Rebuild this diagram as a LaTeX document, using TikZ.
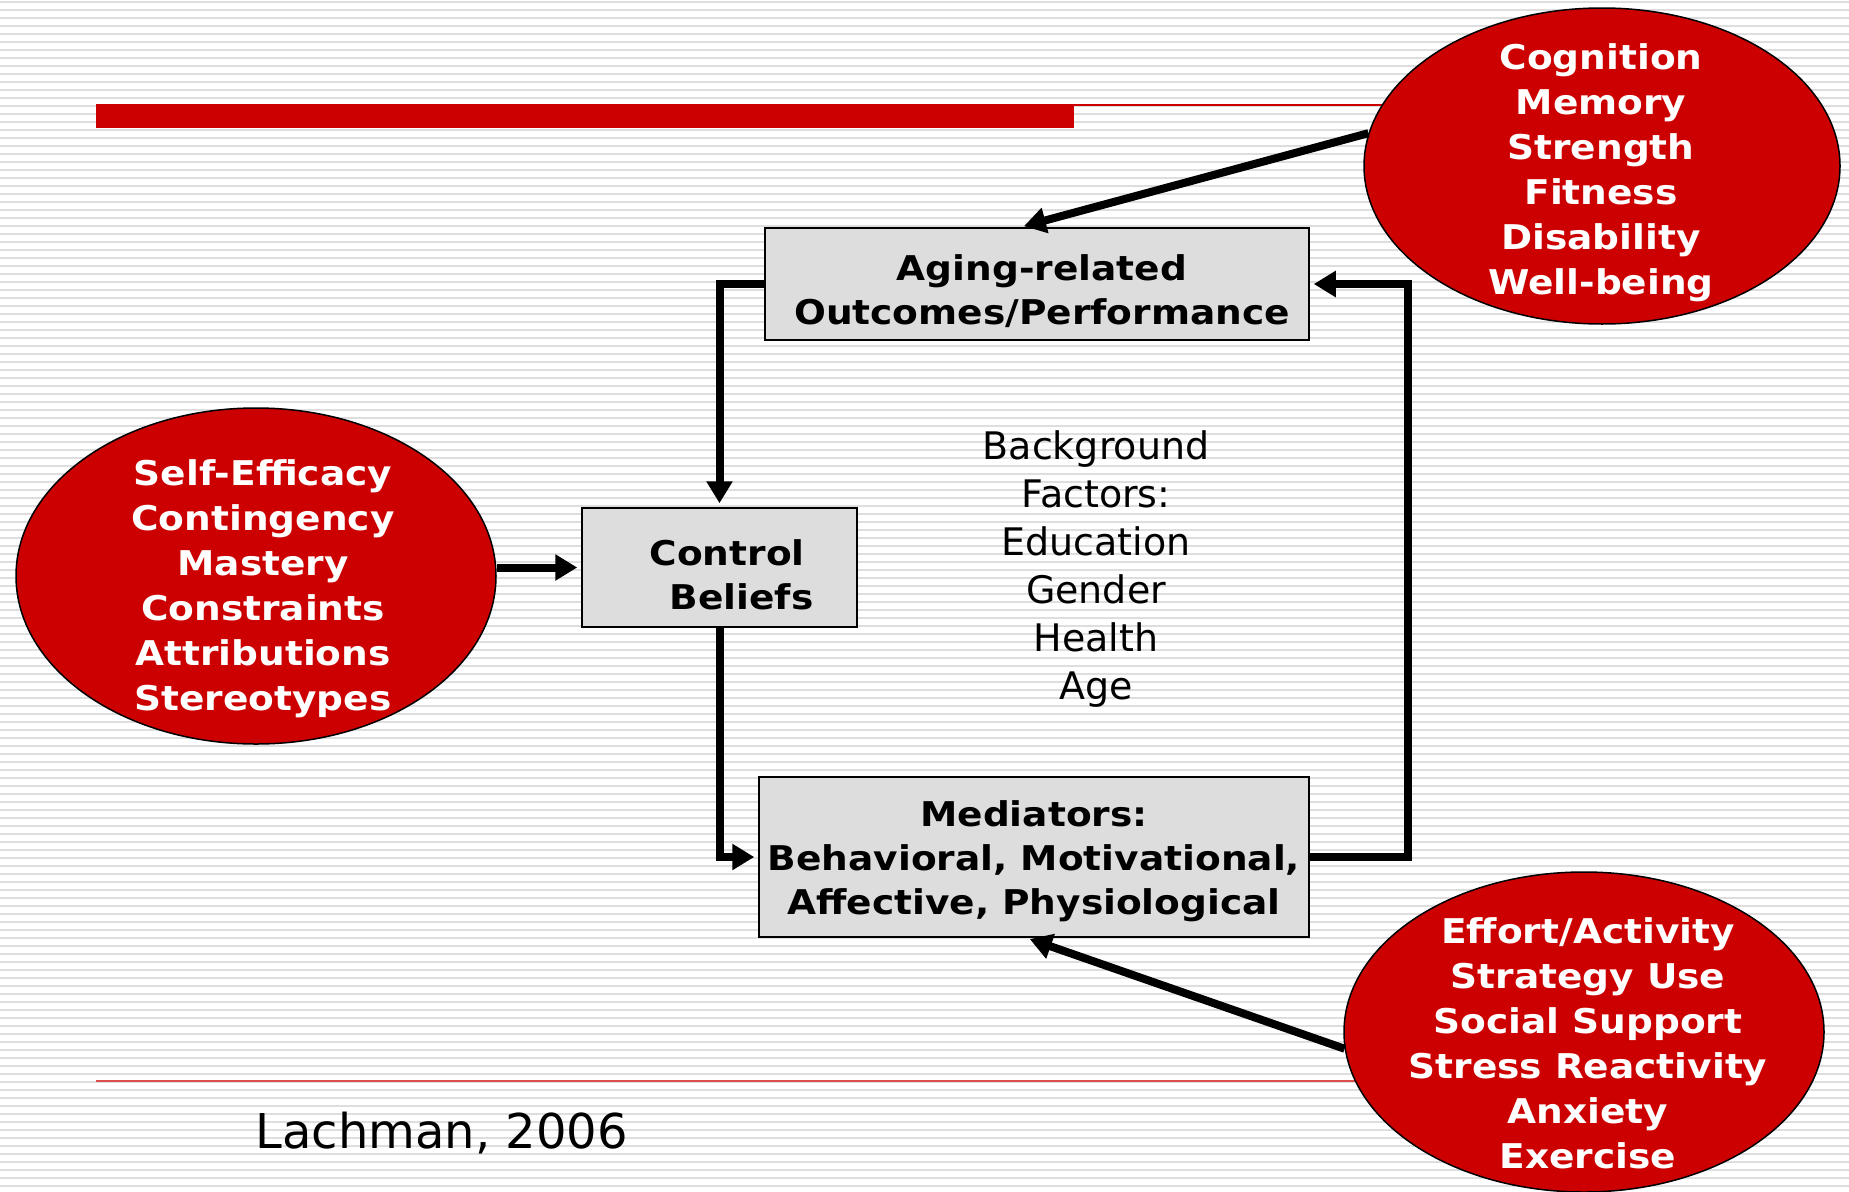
\documentclass[tikz,border=0pt]{standalone}
\usepackage{fontspec}
\setmainfont{DejaVu Sans}
\newfontfamily\heavy{DejaVu Sans}[FakeStretch=1.1]
\usetikzlibrary{arrows.meta,shapes.geometric,calc}
\definecolor{OvalClr}{RGB}{204,0,0}
\definecolor{BoxClr}{RGB}{221,221,221}
\definecolor{StripeClr}{RGB}{222,222,222}

\tikzset{
  oval/.style={ellipse,draw=black,fill=OvalClr,line width=0.15mm,inner sep=0pt},
  ovaltext/.style={text=white,align=center,font=\heavy\bfseries\fontsize{9.7}{12.8}\selectfont},
  box/.style={draw=black,fill=BoxClr,line width=0.15mm,inner sep=0pt},
  boxtext/.style={align=center,font=\heavy\bfseries\fontsize{9.7}{12.6}\selectfont},
  link/.style={line width=0.8mm,-{Triangle[length=2.2mm,width=2.5mm]},shorten >=0.4mm},
  stripe/.style={StripeClr,line width=0.22mm}
}

\begin{document}
\begin{tikzpicture}[x=0.1mm,y=-0.1mm]
\useasboundingbox (0,0) rectangle (1849,1191);
\fill[white] (0,0) rectangle (1849,1191);

% striped slide background
\foreach \k in {0,...,148}
  \draw[stripe] (0,2+8*\k) -- (1849,2+8*\k);

% title rules
\draw[OvalClr,line width=0.2mm] (1074,105) -- (1450,105);
\fill[OvalClr] (96,104) rectangle (1074,128);
\draw[OvalClr!70,line width=0.15mm] (96,1081) -- (1450,1081);

% boxes
\node[box,minimum width=54.4mm,minimum height=11.2mm] (aging) at (1037,284) {};
\node[boxtext] (agingtext) at (1042,291) {Aging-related\\Outcomes/Performance};
\node[box,minimum width=27.5mm,minimum height=11.9mm] (control) at (719.5,567.5) {};
\node[boxtext,align=left] (controltext) at (731.5,574.5) {Control\\\hspace*{2mm}Beliefs};
\node[box,minimum width=55mm,minimum height=16mm] (mediators) at (1034,857) {};
\node[boxtext] (mediatorstext) at (1034,861)
  {Mediators:\\Behavioral, Motivational,\\Affective, Physiological};

% red ovals
\node[oval,minimum width=47.6mm,minimum height=31.6mm] (cog) at (1602,166) {};
\node[ovaltext] (cogtext) at (1601,173)
  {Cognition\\Memory\\Strength\\Fitness\\Disability\\Well-being};

\node[oval,minimum width=48mm,minimum height=33.6mm] (selfeff) at (256,576) {};
\node[ovaltext] (selfefftext) at (263,589)
  {Self-Efficacy\\Contingency\\Mastery\\Constraints\\Attributions\\Stereotypes};

\node[oval,minimum width=48mm,minimum height=32mm] (work) at (1584,1032) {};
\node[ovaltext] (worktext) at (1588,1043)
  {Effort/Activity\\Strategy Use\\Social Support\\Stress Reactivity\\Anxiety\\Exercise};

% texts
\node[align=center,font=\fontsize{10.8}{13.66}\selectfont] (factors) at (1096,569)
  {Background\\Factors:\\Education\\Gender\\Health\\Age};
\node[anchor=base west,font=\fontsize{13.66}{16}\selectfont,inner sep=0pt] (cite) at (255,1148)
  {Lachman, 2006};

% connectors
\draw[link] (cog.172) -- ($(aging.north)+(-17,0)$);
\draw[link] (aging.west) -| (control.north);
\draw[link] (selfeff.east |- control.west) -- (control.west);
\draw[link] (control.south) |- (mediators.west);
\draw[link] (mediators.east) -- ++(98,0) |- (aging.east);
\draw[link] (work.184) -- ($(mediators.south)+(-8,0)$);
\end{tikzpicture}
\end{document}
